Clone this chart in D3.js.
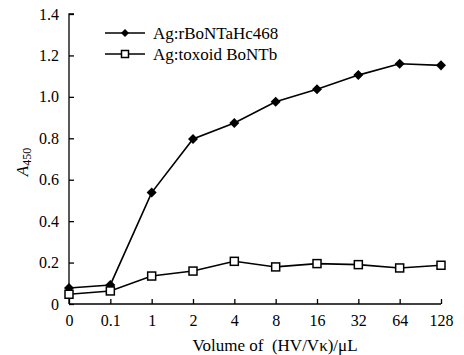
<!DOCTYPE html>
<html>
<head>
<meta charset="utf-8">
<script src="https://cdn.jsdelivr.net/npm/d3@7"></script>
<style>
  body { margin: 0; background: #fff; }
</style>
</head>
<body>
<script>
const categories = ["0", "0.1", "1", "2", "4", "8", "16", "32", "64", "128"];
const rBoNTa = [0.077, 0.092, 0.538, 0.797, 0.874, 0.976, 1.037, 1.105, 1.160, 1.152];
const toxoid = [0.047, 0.063, 0.135, 0.159, 0.206, 0.179, 0.195, 0.190, 0.174, 0.187];
const yTicks = [0, 0.2, 0.4, 0.6, 0.8, 1.0, 1.2, 1.4];
const seriesNames = ["Ag:rBoNTaHc468", "Ag:toxoid BoNTb"];

const w = 464, h = 355;
const font = "Liberation Serif";

const svg = d3.select("body").append("svg")
  .attr("width", w)
  .attr("height", h)
  .attr("font-family", font);

const x = d3.scalePoint().domain(categories).range([69, 441]);
const y = d3.scaleLinear().domain([0, 1.4]).range([304, 14]);

// axes, ticks pointing inward
svg.append("g")
  .attr("transform", "translate(69,0)")
  .call(d3.axisLeft(y).tickValues(yTicks).tickSize(-5).tickPadding(10)
    .tickFormat(d => d === 0 ? "0" : d3.format(".1f")(d)))
  .call(g => g.select(".domain").attr("d", "M0,304V14h5"));

svg.append("g")
  .attr("transform", "translate(0,304)")
  .call(d3.axisBottom(x).tickSize(-5).tickSizeOuter(0).tickPadding(11))
  .call(g => g.select(".domain").attr("d", "M69,0H441"));

svg.selectAll(".tick text")
  .attr("font-family", font)
  .attr("font-size", 16);
svg.selectAll(".domain, .tick line").attr("stroke-width", 1.3);
svg.selectAll("g").attr("font-family", font);

const line = d3.line()
  .x((d, i) => x(categories[i]))
  .y(d => y(d));

[rBoNTa, toxoid].forEach(s => {
  svg.append("path")
    .datum(s)
    .attr("d", line)
    .attr("fill", "none")
    .attr("stroke", "#000")
    .attr("stroke-width", 1.6);
});

const diamond = d3.symbol().type(d3.symbolDiamond2).size(64);

svg.selectAll(".dia")
  .data(rBoNTa)
  .enter()
  .append("path")
  .attr("class", "dia")
  .attr("d", diamond)
  .attr("transform", (d, i) => `translate(${x(categories[i])},${y(d)})`)
  .attr("fill", "#000");

svg.selectAll(".sq")
  .data(toxoid)
  .enter()
  .append("rect")
  .attr("class", "sq")
  .attr("x", (d, i) => x(categories[i]) - 4)
  .attr("y", d => y(d) - 4)
  .attr("width", 8)
  .attr("height", 8)
  .attr("fill", "#fff")
  .attr("stroke", "#000")
  .attr("stroke-width", 1.5);

// legend
const legend = svg.append("g");
legend.selectAll("line")
  .data(seriesNames)
  .enter()
  .append("line")
  .attr("x1", 105).attr("x2", 145)
  .attr("y1", (d, i) => 33 + i * 21)
  .attr("y2", (d, i) => 33 + i * 21)
  .attr("stroke", "#000")
  .attr("stroke-width", 1.6);

legend.append("path")
  .attr("d", d3.symbol().type(d3.symbolDiamond2).size(40))
  .attr("transform", "translate(125,33)");

legend.append("rect")
  .attr("x", 121.5).attr("y", 50.5)
  .attr("width", 7).attr("height", 7)
  .attr("fill", "#fff")
  .attr("stroke", "#000")
  .attr("stroke-width", 1.5);

legend.selectAll("text")
  .data(seriesNames)
  .enter()
  .append("text")
  .attr("x", 153)
  .attr("y", (d, i) => 38.5 + i * 21)
  .attr("font-size", 17)
  .text(d => d);

// axis titles
svg.append("text")
  .attr("transform", "translate(28,162) rotate(-90)")
  .attr("text-anchor", "middle")
  .attr("font-size", 17)
  .html('<tspan font-style="italic">A</tspan><tspan font-size="12" dy="3">450</tspan>');

svg.append("text")
  .attr("x", 275)
  .attr("y", 351)
  .attr("text-anchor", "middle")
  .attr("font-size", 17)
  .attr("xml:space", "preserve")
  .text("Volume of  (HV/V\u03ba)/\u03bcL");
</script>
</body>
</html>
